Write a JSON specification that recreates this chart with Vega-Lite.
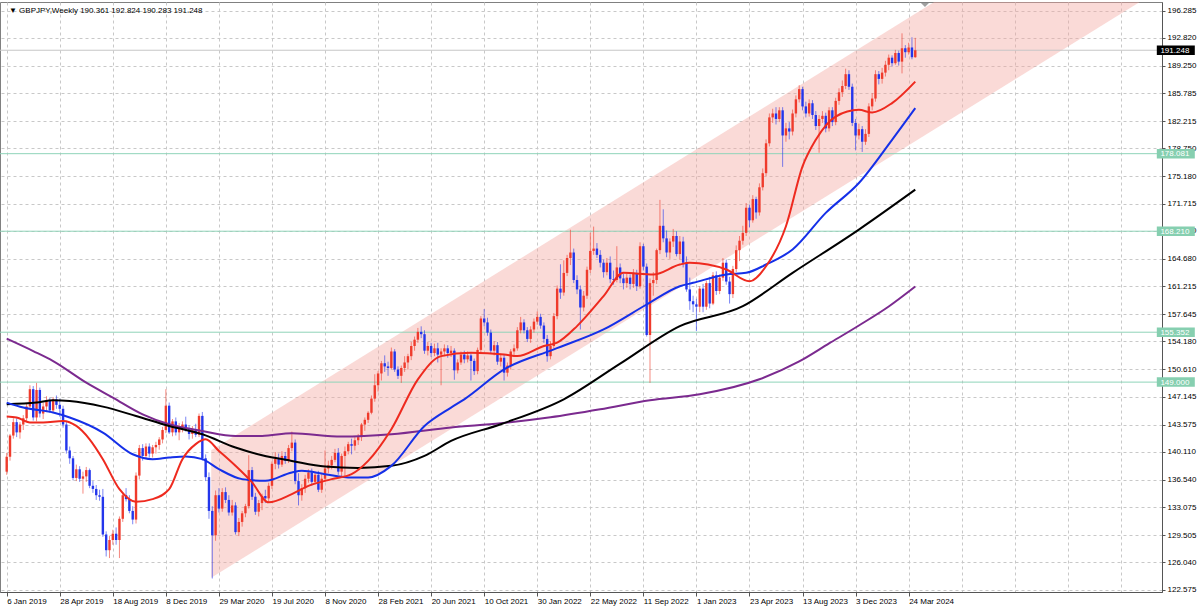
{
  "$schema": "https://vega.github.io/schema/vega-lite/v6.json",
  "width": 1162,
  "height": 590,
  "autosize": {"type": "none"},
  "padding": {"left": 0, "top": 2, "right": 38, "bottom": 18},
  "background": "#ffffff",
  "config": {
    "view": {"stroke": "#808080", "strokeWidth": 1},
    "axis": {
      "labelFont": "Liberation Sans",
      "labelFontSize": 8,
      "labelColor": "#000000",
      "labelOverlap": false,
      "domainColor": "#555555",
      "tickColor": "#555555",
      "gridColor": "#c8c8c8",
      "gridDash": [3, 3],
      "gridWidth": 1
    }
  },
  "datasets": {
    "channel": [
      {"d": "2020-03-12T17:00:00Z", "lo": 124.10, "hi": 140.32},
      {"d": "2025-08-30T07:00:00Z", "lo": 198.75, "hi": 214.98}
    ],
    "levels": [
      {"p": 178.081, "k": "lvl"},
      {"p": 168.21, "k": "lvl"},
      {"p": 155.352, "k": "lvl"},
      {"p": 149.0, "k": "lvl"},
      {"p": 191.248, "k": "cur"}
    ],
    "ma": [
      {"d": "2019-01-06", "s": "p", "v": 154.53},
      {"d": "2019-03-03", "s": "p", "v": 152.95},
      {"d": "2019-04-14", "s": "p", "v": 151.68},
      {"d": "2019-06-23", "s": "p", "v": 148.93},
      {"d": "2019-08-18", "s": "p", "v": 147.03},
      {"d": "2019-10-20", "s": "p", "v": 144.90},
      {"d": "2019-12-15", "s": "p", "v": 143.63},
      {"d": "2020-02-23", "s": "p", "v": 142.78},
      {"d": "2020-05-03", "s": "p", "v": 142.15},
      {"d": "2020-06-28", "s": "p", "v": 142.15},
      {"d": "2020-08-30", "s": "p", "v": 142.49},
      {"d": "2020-12-13", "s": "p", "v": 142.07},
      {"d": "2021-03-28", "s": "p", "v": 142.36},
      {"d": "2021-08-01", "s": "p", "v": 143.22},
      {"d": "2021-11-14", "s": "p", "v": 143.76},
      {"d": "2022-02-27", "s": "p", "v": 144.52},
      {"d": "2022-06-12", "s": "p", "v": 145.54},
      {"d": "2022-09-25", "s": "p", "v": 146.69},
      {"d": "2023-01-08", "s": "p", "v": 147.45},
      {"d": "2023-05-14", "s": "p", "v": 149.36},
      {"d": "2023-08-06", "s": "p", "v": 151.63},
      {"d": "2023-10-08", "s": "p", "v": 153.92},
      {"d": "2023-12-10", "s": "p", "v": 156.21},
      {"d": "2024-02-11", "s": "p", "v": 158.63},
      {"d": "2024-04-07", "s": "p", "v": 161.17},
      {"d": "2019-01-06", "s": "k", "v": 146.18},
      {"d": "2019-03-10", "s": "k", "v": 146.39},
      {"d": "2019-04-14", "s": "k", "v": 146.69},
      {"d": "2019-05-19", "s": "k", "v": 146.60},
      {"d": "2019-07-28", "s": "k", "v": 145.88},
      {"d": "2019-10-06", "s": "k", "v": 144.69},
      {"d": "2019-12-15", "s": "k", "v": 143.42},
      {"d": "2020-02-23", "s": "k", "v": 142.36},
      {"d": "2020-05-03", "s": "k", "v": 140.67},
      {"d": "2020-06-28", "s": "k", "v": 139.69},
      {"d": "2020-08-30", "s": "k", "v": 138.97},
      {"d": "2020-11-08", "s": "k", "v": 138.26},
      {"d": "2021-01-17", "s": "k", "v": 138.08},
      {"d": "2021-03-28", "s": "k", "v": 138.34},
      {"d": "2021-06-06", "s": "k", "v": 139.61},
      {"d": "2021-08-01", "s": "k", "v": 141.51},
      {"d": "2021-11-14", "s": "k", "v": 143.64},
      {"d": "2022-03-27", "s": "k", "v": 146.81},
      {"d": "2022-07-24", "s": "k", "v": 151.35},
      {"d": "2022-11-27", "s": "k", "v": 156.13},
      {"d": "2023-04-09", "s": "k", "v": 158.67},
      {"d": "2023-07-23", "s": "k", "v": 162.91},
      {"d": "2023-12-10", "s": "k", "v": 168.42},
      {"d": "2024-04-07", "s": "k", "v": 173.50},
      {"d": "2019-01-06", "s": "b", "v": 146.39},
      {"d": "2019-02-10", "s": "b", "v": 145.76},
      {"d": "2019-04-14", "s": "b", "v": 145.12},
      {"d": "2019-05-19", "s": "b", "v": 144.49},
      {"d": "2019-07-28", "s": "b", "v": 142.58},
      {"d": "2019-09-29", "s": "b", "v": 139.82},
      {"d": "2019-11-10", "s": "b", "v": 139.19},
      {"d": "2019-12-15", "s": "b", "v": 139.40},
      {"d": "2020-01-19", "s": "b", "v": 139.53},
      {"d": "2020-02-23", "s": "b", "v": 139.19},
      {"d": "2020-03-29", "s": "b", "v": 137.92},
      {"d": "2020-05-17", "s": "b", "v": 136.65},
      {"d": "2020-07-05", "s": "b", "v": 136.43},
      {"d": "2020-08-30", "s": "b", "v": 137.50},
      {"d": "2020-09-20", "s": "b", "v": 137.70},
      {"d": "2020-11-08", "s": "b", "v": 137.28},
      {"d": "2021-01-03", "s": "b", "v": 136.86},
      {"d": "2021-02-07", "s": "b", "v": 136.86},
      {"d": "2021-03-28", "s": "b", "v": 138.34},
      {"d": "2021-06-06", "s": "b", "v": 143.42},
      {"d": "2021-08-01", "s": "b", "v": 145.76},
      {"d": "2021-08-29", "s": "b", "v": 146.81},
      {"d": "2021-11-21", "s": "b", "v": 150.62},
      {"d": "2022-03-06", "s": "b", "v": 153.17},
      {"d": "2022-06-19", "s": "b", "v": 155.71},
      {"d": "2022-09-18", "s": "b", "v": 158.88},
      {"d": "2022-11-27", "s": "b", "v": 161.21},
      {"d": "2022-12-25", "s": "b", "v": 161.64},
      {"d": "2023-03-05", "s": "b", "v": 162.70},
      {"d": "2023-04-16", "s": "b", "v": 162.91},
      {"d": "2023-05-28", "s": "b", "v": 163.97},
      {"d": "2023-07-23", "s": "b", "v": 165.88},
      {"d": "2023-10-01", "s": "b", "v": 170.54},
      {"d": "2023-12-10", "s": "b", "v": 174.35},
      {"d": "2024-02-18", "s": "b", "v": 179.85},
      {"d": "2024-04-07", "s": "b", "v": 183.88},
      {"d": "2019-01-06", "s": "r", "v": 144.61},
      {"d": "2019-01-27", "s": "r", "v": 144.49},
      {"d": "2019-02-24", "s": "r", "v": 143.85},
      {"d": "2019-03-24", "s": "r", "v": 143.85},
      {"d": "2019-05-05", "s": "r", "v": 144.05},
      {"d": "2019-06-02", "s": "r", "v": 143.42},
      {"d": "2019-06-30", "s": "r", "v": 141.72},
      {"d": "2019-07-28", "s": "r", "v": 139.19},
      {"d": "2019-09-01", "s": "r", "v": 135.37},
      {"d": "2019-10-06", "s": "r", "v": 133.76},
      {"d": "2019-11-10", "s": "r", "v": 134.10},
      {"d": "2019-12-15", "s": "r", "v": 135.37},
      {"d": "2020-01-12", "s": "r", "v": 139.19},
      {"d": "2020-02-09", "s": "r", "v": 141.10},
      {"d": "2020-03-01", "s": "r", "v": 141.72},
      {"d": "2020-03-29", "s": "r", "v": 140.24},
      {"d": "2020-05-03", "s": "r", "v": 138.34},
      {"d": "2020-06-07", "s": "r", "v": 136.23},
      {"d": "2020-07-12", "s": "r", "v": 133.69},
      {"d": "2020-08-30", "s": "r", "v": 134.74},
      {"d": "2020-10-04", "s": "r", "v": 135.79},
      {"d": "2020-11-22", "s": "r", "v": 136.65},
      {"d": "2021-01-03", "s": "r", "v": 137.28},
      {"d": "2021-02-07", "s": "r", "v": 138.97},
      {"d": "2021-03-28", "s": "r", "v": 143.00},
      {"d": "2021-05-23", "s": "r", "v": 149.35},
      {"d": "2021-07-11", "s": "r", "v": 152.31},
      {"d": "2021-09-12", "s": "r", "v": 152.75},
      {"d": "2021-11-21", "s": "r", "v": 152.53},
      {"d": "2021-12-19", "s": "r", "v": 152.31},
      {"d": "2022-02-13", "s": "r", "v": 153.59},
      {"d": "2022-03-13", "s": "r", "v": 154.02},
      {"d": "2022-04-24", "s": "r", "v": 156.13},
      {"d": "2022-06-19", "s": "r", "v": 159.94},
      {"d": "2022-07-31", "s": "r", "v": 162.91},
      {"d": "2022-10-02", "s": "r", "v": 162.70},
      {"d": "2022-11-27", "s": "r", "v": 163.97},
      {"d": "2022-12-18", "s": "r", "v": 164.19},
      {"d": "2023-03-05", "s": "r", "v": 163.33},
      {"d": "2023-04-23", "s": "r", "v": 161.84},
      {"d": "2023-05-28", "s": "r", "v": 163.75},
      {"d": "2023-07-09", "s": "r", "v": 168.84},
      {"d": "2023-08-13", "s": "r", "v": 176.46},
      {"d": "2023-09-10", "s": "r", "v": 179.85},
      {"d": "2023-10-22", "s": "r", "v": 182.81},
      {"d": "2023-12-10", "s": "r", "v": 183.66},
      {"d": "2024-01-07", "s": "r", "v": 183.32},
      {"d": "2024-02-18", "s": "r", "v": 184.52},
      {"d": "2024-04-07", "s": "r", "v": 187.26}
    ],
    "bars": [
      {"d":"2019-01-06","o":137.6,"h":140.0,"l":137.2,"c":139.5},
      {"d":"2019-01-13","o":139.5,"h":142.4,"l":139.0,"c":142.2},
      {"d":"2019-01-20","o":142.2,"h":144.4,"l":141.8,"c":143.9},
      {"d":"2019-01-27","o":143.9,"h":144.4,"l":142.0,"c":142.6},
      {"d":"2019-02-03","o":142.6,"h":143.9,"l":141.8,"c":143.6},
      {"d":"2019-02-10","o":143.6,"h":144.8,"l":142.9,"c":144.4},
      {"d":"2019-02-17","o":144.4,"h":146.3,"l":143.9,"c":145.9},
      {"d":"2019-02-24","o":145.9,"h":148.6,"l":145.5,"c":148.1},
      {"d":"2019-03-03","o":148.1,"h":148.5,"l":144.1,"c":144.5},
      {"d":"2019-03-10","o":144.5,"h":148.9,"l":144.0,"c":148.0},
      {"d":"2019-03-17","o":148.0,"h":148.3,"l":144.5,"c":145.0},
      {"d":"2019-03-24","o":145.0,"h":146.4,"l":144.3,"c":145.9},
      {"d":"2019-03-31","o":145.9,"h":147.2,"l":145.3,"c":146.7},
      {"d":"2019-04-07","o":146.7,"h":147.0,"l":145.1,"c":145.4},
      {"d":"2019-04-14","o":145.4,"h":147.1,"l":145.1,"c":146.8},
      {"d":"2019-04-21","o":146.8,"h":147.3,"l":145.6,"c":146.1},
      {"d":"2019-04-28","o":146.1,"h":146.9,"l":144.6,"c":145.6},
      {"d":"2019-05-05","o":145.6,"h":146.0,"l":143.2,"c":143.6},
      {"d":"2019-05-12","o":143.6,"h":144.0,"l":139.9,"c":140.3},
      {"d":"2019-05-19","o":140.3,"h":140.8,"l":138.6,"c":139.3},
      {"d":"2019-05-26","o":139.3,"h":139.6,"l":136.5,"c":136.8},
      {"d":"2019-06-02","o":136.8,"h":138.5,"l":136.4,"c":137.9},
      {"d":"2019-06-09","o":137.9,"h":138.3,"l":136.3,"c":136.7},
      {"d":"2019-06-16","o":136.7,"h":137.6,"l":134.8,"c":137.0},
      {"d":"2019-06-23","o":137.0,"h":138.2,"l":136.3,"c":137.8},
      {"d":"2019-06-30","o":137.8,"h":138.0,"l":135.5,"c":135.8},
      {"d":"2019-07-07","o":135.8,"h":136.4,"l":134.9,"c":135.4},
      {"d":"2019-07-14","o":135.4,"h":135.9,"l":134.0,"c":134.6},
      {"d":"2019-07-21","o":134.6,"h":135.3,"l":133.9,"c":134.4},
      {"d":"2019-07-28","o":134.4,"h":135.4,"l":129.3,"c":129.6},
      {"d":"2019-08-04","o":129.6,"h":130.0,"l":126.8,"c":127.6},
      {"d":"2019-08-11","o":127.6,"h":129.4,"l":126.6,"c":128.9},
      {"d":"2019-08-18","o":128.9,"h":130.2,"l":128.3,"c":129.7},
      {"d":"2019-08-25","o":129.7,"h":130.5,"l":128.3,"c":128.9},
      {"d":"2019-09-01","o":128.9,"h":131.9,"l":126.6,"c":131.6},
      {"d":"2019-09-08","o":131.6,"h":134.9,"l":131.2,"c":134.6},
      {"d":"2019-09-15","o":134.6,"h":135.5,"l":133.8,"c":134.1},
      {"d":"2019-09-22","o":134.1,"h":134.6,"l":132.3,"c":132.6},
      {"d":"2019-09-29","o":132.6,"h":133.2,"l":130.9,"c":131.5},
      {"d":"2019-10-06","o":131.5,"h":137.5,"l":131.0,"c":137.1},
      {"d":"2019-10-13","o":137.1,"h":141.0,"l":136.6,"c":140.6},
      {"d":"2019-10-20","o":140.6,"h":141.1,"l":139.0,"c":139.6},
      {"d":"2019-10-27","o":139.6,"h":141.2,"l":139.2,"c":140.8},
      {"d":"2019-11-03","o":140.8,"h":141.2,"l":139.4,"c":139.9},
      {"d":"2019-11-10","o":139.9,"h":141.0,"l":139.4,"c":140.7},
      {"d":"2019-11-17","o":140.7,"h":141.4,"l":139.9,"c":141.0},
      {"d":"2019-11-24","o":141.0,"h":142.0,"l":140.4,"c":141.7},
      {"d":"2019-12-01","o":141.7,"h":143.3,"l":141.2,"c":142.9},
      {"d":"2019-12-08","o":142.9,"h":148.1,"l":142.5,"c":146.0},
      {"d":"2019-12-15","o":146.0,"h":146.4,"l":142.4,"c":142.6},
      {"d":"2019-12-22","o":142.6,"h":144.3,"l":142.1,"c":144.0},
      {"d":"2019-12-29","o":144.0,"h":144.5,"l":142.2,"c":142.6},
      {"d":"2020-01-05","o":142.6,"h":143.8,"l":141.6,"c":143.2},
      {"d":"2020-01-12","o":143.2,"h":144.0,"l":142.6,"c":143.6},
      {"d":"2020-01-19","o":143.6,"h":144.6,"l":142.7,"c":143.0},
      {"d":"2020-01-26","o":143.0,"h":143.5,"l":141.7,"c":142.4},
      {"d":"2020-02-02","o":142.4,"h":143.4,"l":141.8,"c":142.9},
      {"d":"2020-02-09","o":142.9,"h":143.7,"l":142.0,"c":142.3},
      {"d":"2020-02-16","o":142.3,"h":145.0,"l":142.0,"c":144.7},
      {"d":"2020-02-23","o":144.7,"h":145.2,"l":139.0,"c":139.3},
      {"d":"2020-03-01","o":139.3,"h":139.8,"l":136.4,"c":136.9},
      {"d":"2020-03-08","o":136.9,"h":137.5,"l":131.6,"c":132.6},
      {"d":"2020-03-15","o":132.6,"h":133.2,"l":124.0,"c":129.5},
      {"d":"2020-03-22","o":129.5,"h":135.2,"l":128.8,"c":134.6},
      {"d":"2020-03-29","o":134.6,"h":135.5,"l":132.4,"c":132.9},
      {"d":"2020-04-05","o":132.9,"h":135.5,"l":132.5,"c":135.0},
      {"d":"2020-04-12","o":135.0,"h":135.6,"l":133.6,"c":134.0},
      {"d":"2020-04-19","o":134.0,"h":134.6,"l":132.0,"c":132.4},
      {"d":"2020-04-26","o":132.4,"h":134.0,"l":132.0,"c":133.3},
      {"d":"2020-05-03","o":133.3,"h":133.7,"l":129.6,"c":129.9},
      {"d":"2020-05-10","o":129.9,"h":131.7,"l":129.4,"c":131.2},
      {"d":"2020-05-17","o":131.2,"h":132.6,"l":130.6,"c":132.3},
      {"d":"2020-05-24","o":132.3,"h":133.5,"l":131.8,"c":133.2},
      {"d":"2020-05-31","o":133.2,"h":139.7,"l":132.9,"c":137.8},
      {"d":"2020-06-07","o":137.8,"h":138.2,"l":134.0,"c":134.4},
      {"d":"2020-06-14","o":134.4,"h":134.9,"l":132.1,"c":132.5},
      {"d":"2020-06-21","o":132.5,"h":134.0,"l":131.9,"c":133.6},
      {"d":"2020-06-28","o":133.6,"h":134.8,"l":132.7,"c":134.5},
      {"d":"2020-07-05","o":134.5,"h":135.3,"l":133.6,"c":134.2},
      {"d":"2020-07-12","o":134.2,"h":136.2,"l":133.7,"c":135.8},
      {"d":"2020-07-19","o":135.8,"h":138.9,"l":135.4,"c":138.6},
      {"d":"2020-07-26","o":138.6,"h":140.1,"l":137.9,"c":139.2},
      {"d":"2020-08-02","o":139.2,"h":139.9,"l":138.0,"c":138.5},
      {"d":"2020-08-09","o":138.5,"h":140.2,"l":138.2,"c":139.6},
      {"d":"2020-08-16","o":139.6,"h":140.1,"l":138.6,"c":139.0},
      {"d":"2020-08-23","o":139.0,"h":141.0,"l":138.7,"c":140.6},
      {"d":"2020-08-30","o":140.6,"h":142.7,"l":140.2,"c":141.3},
      {"d":"2020-09-06","o":141.3,"h":141.7,"l":136.0,"c":136.4},
      {"d":"2020-09-13","o":136.4,"h":137.4,"l":133.3,"c":134.6},
      {"d":"2020-09-20","o":134.6,"h":136.0,"l":133.9,"c":135.5},
      {"d":"2020-09-27","o":135.5,"h":137.2,"l":134.9,"c":136.7},
      {"d":"2020-10-04","o":136.7,"h":137.9,"l":136.2,"c":137.5},
      {"d":"2020-10-11","o":137.5,"h":138.0,"l":135.8,"c":136.3},
      {"d":"2020-10-18","o":136.3,"h":137.6,"l":136.0,"c":137.2},
      {"d":"2020-10-25","o":137.2,"h":137.7,"l":135.0,"c":135.3},
      {"d":"2020-11-01","o":135.3,"h":137.3,"l":134.9,"c":136.7},
      {"d":"2020-11-08","o":136.7,"h":140.3,"l":136.3,"c":138.0},
      {"d":"2020-11-15","o":138.0,"h":139.0,"l":137.4,"c":138.4},
      {"d":"2020-11-22","o":138.4,"h":139.6,"l":137.9,"c":139.1},
      {"d":"2020-11-29","o":139.1,"h":140.5,"l":138.8,"c":140.0},
      {"d":"2020-12-06","o":140.0,"h":140.6,"l":137.2,"c":137.6},
      {"d":"2020-12-13","o":137.6,"h":139.9,"l":137.0,"c":139.6},
      {"d":"2020-12-20","o":139.6,"h":140.8,"l":136.8,"c":140.2},
      {"d":"2020-12-27","o":140.2,"h":141.4,"l":139.8,"c":141.1},
      {"d":"2021-01-03","o":141.1,"h":141.8,"l":139.8,"c":140.9},
      {"d":"2021-01-10","o":140.9,"h":142.0,"l":140.3,"c":141.6},
      {"d":"2021-01-17","o":141.6,"h":142.4,"l":141.0,"c":142.0},
      {"d":"2021-01-24","o":142.0,"h":143.8,"l":141.5,"c":143.6},
      {"d":"2021-01-31","o":143.6,"h":144.5,"l":142.8,"c":144.2},
      {"d":"2021-02-07","o":144.2,"h":145.3,"l":143.8,"c":145.1},
      {"d":"2021-02-14","o":145.1,"h":147.3,"l":144.9,"c":146.9},
      {"d":"2021-02-21","o":146.9,"h":150.0,"l":146.5,"c":148.6},
      {"d":"2021-02-28","o":148.6,"h":150.4,"l":147.8,"c":150.1},
      {"d":"2021-03-07","o":150.1,"h":151.7,"l":149.2,"c":151.4},
      {"d":"2021-03-14","o":151.4,"h":152.4,"l":150.3,"c":151.0},
      {"d":"2021-03-21","o":151.0,"h":151.6,"l":149.8,"c":150.8},
      {"d":"2021-03-28","o":150.8,"h":153.4,"l":150.6,"c":152.9},
      {"d":"2021-04-04","o":152.9,"h":153.2,"l":150.3,"c":150.6},
      {"d":"2021-04-11","o":150.6,"h":151.0,"l":149.4,"c":149.8},
      {"d":"2021-04-18","o":149.8,"h":151.1,"l":148.9,"c":150.8},
      {"d":"2021-04-25","o":150.8,"h":152.3,"l":150.3,"c":151.5},
      {"d":"2021-05-02","o":151.5,"h":152.6,"l":150.6,"c":152.3},
      {"d":"2021-05-09","o":152.3,"h":154.1,"l":151.8,"c":153.6},
      {"d":"2021-05-16","o":153.6,"h":154.8,"l":153.0,"c":154.4},
      {"d":"2021-05-23","o":154.4,"h":155.9,"l":154.0,"c":155.4},
      {"d":"2021-05-30","o":155.4,"h":156.1,"l":154.6,"c":155.1},
      {"d":"2021-06-06","o":155.1,"h":155.6,"l":152.6,"c":153.0},
      {"d":"2021-06-13","o":153.0,"h":154.1,"l":152.4,"c":153.6},
      {"d":"2021-06-20","o":153.6,"h":154.0,"l":152.2,"c":152.7},
      {"d":"2021-06-27","o":152.7,"h":153.9,"l":152.3,"c":153.3},
      {"d":"2021-07-04","o":153.3,"h":154.0,"l":151.5,"c":152.5},
      {"d":"2021-07-11","o":152.5,"h":153.3,"l":148.6,"c":152.9},
      {"d":"2021-07-18","o":152.9,"h":153.8,"l":152.3,"c":153.3},
      {"d":"2021-07-25","o":153.3,"h":153.7,"l":152.1,"c":152.7},
      {"d":"2021-08-01","o":152.7,"h":153.6,"l":152.2,"c":153.0},
      {"d":"2021-08-08","o":153.0,"h":153.3,"l":149.3,"c":150.5},
      {"d":"2021-08-15","o":150.5,"h":151.9,"l":150.1,"c":151.5},
      {"d":"2021-08-22","o":151.5,"h":152.9,"l":151.2,"c":152.5},
      {"d":"2021-08-29","o":152.5,"h":153.0,"l":151.4,"c":151.9},
      {"d":"2021-09-05","o":151.9,"h":152.9,"l":151.5,"c":152.4},
      {"d":"2021-09-12","o":152.4,"h":152.7,"l":149.2,"c":151.7},
      {"d":"2021-09-19","o":151.7,"h":152.0,"l":149.9,"c":150.4},
      {"d":"2021-09-26","o":150.4,"h":153.4,"l":150.0,"c":153.1},
      {"d":"2021-10-03","o":153.1,"h":157.4,"l":152.8,"c":157.1},
      {"d":"2021-10-10","o":157.1,"h":158.3,"l":156.1,"c":156.6},
      {"d":"2021-10-17","o":156.6,"h":157.2,"l":154.9,"c":155.3},
      {"d":"2021-10-24","o":155.3,"h":155.7,"l":152.6,"c":153.0},
      {"d":"2021-10-31","o":153.0,"h":154.2,"l":152.4,"c":153.7},
      {"d":"2021-11-07","o":153.7,"h":154.1,"l":151.2,"c":151.6},
      {"d":"2021-11-14","o":151.6,"h":152.6,"l":151.0,"c":152.1},
      {"d":"2021-11-21","o":152.1,"h":152.5,"l":149.2,"c":150.2},
      {"d":"2021-11-28","o":150.2,"h":151.5,"l":149.7,"c":151.1},
      {"d":"2021-12-05","o":151.1,"h":153.2,"l":150.6,"c":152.9},
      {"d":"2021-12-12","o":152.9,"h":153.8,"l":152.3,"c":153.3},
      {"d":"2021-12-19","o":153.3,"h":156.0,"l":153.0,"c":155.6},
      {"d":"2021-12-26","o":155.6,"h":157.3,"l":155.2,"c":156.6},
      {"d":"2022-01-02","o":156.6,"h":157.0,"l":155.2,"c":155.6},
      {"d":"2022-01-09","o":155.6,"h":156.0,"l":154.1,"c":154.5},
      {"d":"2022-01-16","o":154.5,"h":156.1,"l":154.0,"c":155.7},
      {"d":"2022-01-23","o":155.7,"h":157.1,"l":155.3,"c":156.7},
      {"d":"2022-01-30","o":156.7,"h":158.0,"l":156.3,"c":157.3},
      {"d":"2022-02-06","o":157.3,"h":157.7,"l":155.8,"c":156.2},
      {"d":"2022-02-13","o":156.2,"h":156.6,"l":154.0,"c":154.5},
      {"d":"2022-02-20","o":154.5,"h":155.0,"l":151.6,"c":152.3},
      {"d":"2022-02-27","o":152.3,"h":154.2,"l":151.9,"c":153.6},
      {"d":"2022-03-06","o":153.6,"h":157.8,"l":153.3,"c":157.4},
      {"d":"2022-03-13","o":157.4,"h":161.3,"l":157.0,"c":160.9},
      {"d":"2022-03-20","o":160.9,"h":164.0,"l":159.6,"c":160.4},
      {"d":"2022-03-27","o":160.4,"h":164.5,"l":160.0,"c":162.9},
      {"d":"2022-04-03","o":162.9,"h":165.2,"l":162.5,"c":164.8},
      {"d":"2022-04-10","o":164.8,"h":168.4,"l":163.9,"c":165.5},
      {"d":"2022-04-17","o":165.5,"h":166.0,"l":161.6,"c":162.0},
      {"d":"2022-04-24","o":162.0,"h":162.6,"l":160.2,"c":160.8},
      {"d":"2022-05-01","o":160.8,"h":161.3,"l":155.7,"c":158.5},
      {"d":"2022-05-08","o":158.5,"h":160.6,"l":158.0,"c":160.0},
      {"d":"2022-05-15","o":160.0,"h":163.7,"l":159.6,"c":163.3},
      {"d":"2022-05-22","o":163.3,"h":168.0,"l":162.9,"c":165.7},
      {"d":"2022-05-29","o":165.7,"h":168.8,"l":165.2,"c":166.0},
      {"d":"2022-06-05","o":166.0,"h":166.7,"l":164.8,"c":165.2},
      {"d":"2022-06-12","o":165.2,"h":165.8,"l":163.6,"c":164.2},
      {"d":"2022-06-19","o":164.2,"h":164.6,"l":162.3,"c":163.0},
      {"d":"2022-06-26","o":163.0,"h":164.8,"l":162.6,"c":164.2},
      {"d":"2022-07-03","o":164.2,"h":165.0,"l":161.6,"c":162.1},
      {"d":"2022-07-10","o":162.1,"h":163.2,"l":161.4,"c":162.0},
      {"d":"2022-07-17","o":162.0,"h":166.3,"l":161.7,"c":163.6},
      {"d":"2022-07-24","o":163.6,"h":164.1,"l":161.6,"c":162.2},
      {"d":"2022-07-31","o":162.2,"h":162.8,"l":160.8,"c":161.6},
      {"d":"2022-08-07","o":161.6,"h":162.8,"l":161.0,"c":162.3},
      {"d":"2022-08-14","o":162.3,"h":162.7,"l":160.8,"c":161.5},
      {"d":"2022-08-21","o":161.5,"h":163.4,"l":161.0,"c":162.8},
      {"d":"2022-08-28","o":162.8,"h":163.3,"l":160.6,"c":161.2},
      {"d":"2022-09-04","o":161.2,"h":166.8,"l":160.9,"c":166.3},
      {"d":"2022-09-11","o":166.3,"h":166.6,"l":163.2,"c":163.7},
      {"d":"2022-09-18","o":163.7,"h":164.1,"l":154.8,"c":155.0},
      {"d":"2022-09-25","o":155.0,"h":162.2,"l":148.9,"c":161.6},
      {"d":"2022-10-02","o":161.6,"h":163.0,"l":160.0,"c":162.0},
      {"d":"2022-10-09","o":162.0,"h":166.0,"l":161.5,"c":165.8},
      {"d":"2022-10-16","o":165.8,"h":172.2,"l":165.3,"c":168.9},
      {"d":"2022-10-23","o":168.9,"h":171.0,"l":166.8,"c":167.3},
      {"d":"2022-10-30","o":167.3,"h":168.3,"l":164.9,"c":165.5},
      {"d":"2022-11-06","o":165.5,"h":167.3,"l":164.7,"c":166.9},
      {"d":"2022-11-13","o":166.9,"h":168.5,"l":166.2,"c":167.6},
      {"d":"2022-11-20","o":167.6,"h":168.2,"l":165.0,"c":165.3},
      {"d":"2022-11-27","o":165.3,"h":167.6,"l":164.6,"c":166.9},
      {"d":"2022-12-04","o":166.9,"h":167.5,"l":163.6,"c":164.2},
      {"d":"2022-12-11","o":164.2,"h":165.0,"l":160.5,"c":160.8},
      {"d":"2022-12-18","o":160.8,"h":162.3,"l":158.2,"c":159.3},
      {"d":"2022-12-25","o":159.3,"h":160.0,"l":157.9,"c":158.9},
      {"d":"2023-01-01","o":158.9,"h":159.6,"l":155.5,"c":158.6},
      {"d":"2023-01-08","o":158.6,"h":161.2,"l":157.9,"c":160.9},
      {"d":"2023-01-15","o":160.9,"h":161.5,"l":157.9,"c":158.6},
      {"d":"2023-01-22","o":158.6,"h":161.9,"l":158.2,"c":161.6},
      {"d":"2023-01-29","o":161.6,"h":162.4,"l":158.4,"c":159.0},
      {"d":"2023-02-05","o":159.0,"h":163.0,"l":158.8,"c":162.6},
      {"d":"2023-02-12","o":162.6,"h":163.1,"l":160.1,"c":160.6},
      {"d":"2023-02-19","o":160.6,"h":162.7,"l":160.2,"c":162.3},
      {"d":"2023-02-26","o":162.3,"h":164.8,"l":161.9,"c":164.2},
      {"d":"2023-03-05","o":164.2,"h":164.6,"l":161.4,"c":161.8},
      {"d":"2023-03-12","o":161.8,"h":162.4,"l":159.0,"c":160.2},
      {"d":"2023-03-19","o":160.2,"h":163.8,"l":159.7,"c":163.4},
      {"d":"2023-03-26","o":163.4,"h":166.4,"l":163.0,"c":165.8},
      {"d":"2023-04-02","o":165.8,"h":167.6,"l":164.4,"c":167.0},
      {"d":"2023-04-09","o":167.0,"h":168.9,"l":166.5,"c":168.0},
      {"d":"2023-04-16","o":168.0,"h":171.8,"l":167.6,"c":171.2},
      {"d":"2023-04-23","o":171.2,"h":171.6,"l":168.7,"c":169.6},
      {"d":"2023-04-30","o":169.6,"h":172.8,"l":169.3,"c":172.3},
      {"d":"2023-05-07","o":172.3,"h":172.6,"l":169.8,"c":170.6},
      {"d":"2023-05-14","o":170.6,"h":174.3,"l":170.2,"c":173.8},
      {"d":"2023-05-21","o":173.8,"h":176.2,"l":173.4,"c":175.6},
      {"d":"2023-05-28","o":175.6,"h":179.9,"l":175.2,"c":179.4},
      {"d":"2023-06-04","o":179.4,"h":183.2,"l":179.0,"c":182.7},
      {"d":"2023-06-11","o":182.7,"h":183.8,"l":182.0,"c":183.2},
      {"d":"2023-06-18","o":183.2,"h":184.0,"l":181.8,"c":182.5},
      {"d":"2023-06-25","o":182.5,"h":184.0,"l":182.1,"c":183.6},
      {"d":"2023-07-02","o":183.6,"h":184.0,"l":176.4,"c":180.4},
      {"d":"2023-07-09","o":180.4,"h":182.0,"l":179.6,"c":181.3},
      {"d":"2023-07-16","o":181.3,"h":182.1,"l":179.9,"c":180.9},
      {"d":"2023-07-23","o":180.9,"h":183.7,"l":180.4,"c":183.2},
      {"d":"2023-07-30","o":183.2,"h":185.5,"l":182.7,"c":185.0},
      {"d":"2023-08-06","o":185.0,"h":186.8,"l":184.6,"c":186.3},
      {"d":"2023-08-13","o":186.3,"h":186.6,"l":183.6,"c":184.1},
      {"d":"2023-08-20","o":184.1,"h":184.7,"l":182.7,"c":183.2},
      {"d":"2023-08-27","o":183.2,"h":185.0,"l":182.8,"c":184.5},
      {"d":"2023-09-03","o":184.5,"h":184.9,"l":182.5,"c":183.0},
      {"d":"2023-09-10","o":183.0,"h":183.5,"l":181.1,"c":181.6},
      {"d":"2023-09-17","o":181.6,"h":183.0,"l":178.2,"c":182.5},
      {"d":"2023-09-24","o":182.5,"h":183.5,"l":182.0,"c":182.9},
      {"d":"2023-10-01","o":182.9,"h":183.3,"l":180.8,"c":181.3},
      {"d":"2023-10-08","o":181.3,"h":184.0,"l":180.9,"c":183.6},
      {"d":"2023-10-15","o":183.6,"h":184.0,"l":181.6,"c":182.1},
      {"d":"2023-10-22","o":182.1,"h":185.2,"l":181.7,"c":184.8},
      {"d":"2023-10-29","o":184.8,"h":186.4,"l":184.3,"c":185.9},
      {"d":"2023-11-05","o":185.9,"h":187.4,"l":185.3,"c":186.7},
      {"d":"2023-11-12","o":186.7,"h":188.9,"l":186.3,"c":188.2},
      {"d":"2023-11-19","o":188.2,"h":188.7,"l":186.2,"c":186.6},
      {"d":"2023-11-26","o":186.6,"h":187.0,"l":181.6,"c":182.0},
      {"d":"2023-12-03","o":182.0,"h":182.5,"l":178.5,"c":180.4},
      {"d":"2023-12-10","o":180.4,"h":181.9,"l":179.9,"c":181.2},
      {"d":"2023-12-17","o":181.2,"h":181.6,"l":178.3,"c":179.6},
      {"d":"2023-12-24","o":179.6,"h":181.2,"l":179.2,"c":180.6},
      {"d":"2023-12-31","o":180.6,"h":184.5,"l":180.2,"c":184.1},
      {"d":"2024-01-07","o":184.1,"h":185.8,"l":183.6,"c":185.1},
      {"d":"2024-01-14","o":185.1,"h":188.7,"l":184.7,"c":188.2},
      {"d":"2024-01-21","o":188.2,"h":188.6,"l":186.9,"c":187.6},
      {"d":"2024-01-28","o":187.6,"h":189.0,"l":187.0,"c":188.4},
      {"d":"2024-02-04","o":188.4,"h":189.9,"l":187.9,"c":189.4},
      {"d":"2024-02-11","o":189.4,"h":190.7,"l":188.7,"c":190.3},
      {"d":"2024-02-18","o":190.3,"h":190.6,"l":189.2,"c":189.6},
      {"d":"2024-02-25","o":189.6,"h":191.3,"l":189.4,"c":190.9},
      {"d":"2024-03-03","o":190.9,"h":191.2,"l":189.3,"c":189.8},
      {"d":"2024-03-10","o":189.8,"h":193.4,"l":188.3,"c":191.5},
      {"d":"2024-03-17","o":191.5,"h":191.9,"l":190.3,"c":191.0},
      {"d":"2024-03-24","o":191.0,"h":192.2,"l":190.7,"c":191.6},
      {"d":"2024-03-31","o":191.6,"h":192.9,"l":190.1,"c":190.36},
      {"d":"2024-04-07","o":190.361,"h":192.824,"l":190.283,"c":191.248}
    ]
  },
  "layer": [
    {
      "data": {"name": "channel"},
      "mark": {"type": "area", "clip": true, "color": "#f4a6a0", "opacity": 0.42},
      "encoding": {
        "x": {"field": "d", "type": "temporal", "title": null,
              "scale": {"type": "utc", "nice": false, "domain": [{"year": 2019, "month": 1, "date": 2, "hours": 10, "utc": true}, {"year": 2025, "month": 8, "date": 30, "hours": 7, "utc": true}]},
              "axis": {
                "values": [1546732800000, 1551571200000, 1556409600000, 1561248000000, 1566086400000, 1570924800000, 1575763200000, 1580601600000, 1585440000000, 1590278400000, 1595116800000, 1599955200000, 1604793600000, 1609632000000, 1614470400000, 1619308800000, 1624147200000, 1628985600000, 1633824000000, 1638662400000, 1643500800000, 1648339200000, 1653177600000, 1658016000000, 1662854400000, 1667692800000, 1672531200000, 1677369600000, 1682208000000, 1687046400000, 1691884800000, 1696723200000, 1701561600000, 1706400000000, 1711238400000, 1716076800000, 1720915200000, 1725753600000, 1730592000000, 1735430400000, 1740268800000, 1745107200000, 1749945600000, 1754784000000],
                "labelExpr": "(round((datum.value - 1546732800000) / 4838400000) % 2 == 0 && datum.value <= 1711238400000) ? utcFormat(datum.value, '%-d %b %Y') : ''",
                "tickOpacity": {"condition": {"test": "round((datum.value - 1546732800000) / 4838400000) % 2 == 0 && datum.value <= 1711238400000", "value": 1}, "value": 0},
                "grid": true,
                "tickSize": 4,
                "labelAlign": "left",
                "labelBaseline": "top",
                "labelPadding": 1,
                "labelOverlap": false,
                "labelFlush": false,
                "labelBound": false,
                "title": null
              }},
        "y": {"field": "lo", "type": "quantitative", "title": null,
              "scale": {"domain": [122.28, 197.39], "nice": false, "zero": false},
              "axis": {"orient": "right", "values": [122.575, 126.04, 129.505, 133.075, 136.54, 140.11, 143.575, 147.145, 150.61, 154.18, 157.645, 161.215, 164.68, 168.25, 171.715, 175.18, 178.75, 182.215, 185.785, 189.25, 192.82, 196.285], "format": ".3f", "grid": true, "tickSize": 3, "labelPadding": 2, "labelOverlap": false, "labelFlush": false, "labelBound": false, "title": null}},
        "y2": {"field": "hi"}
      }
    },
    {
      "data": {"name": "levels"},
      "mark": {"type": "rule", "strokeWidth": 1},
      "encoding": {
        "y": {"field": "p", "type": "quantitative", "title": null, "axis": {"orient": "right", "values": [122.575, 126.04, 129.505, 133.075, 136.54, 140.11, 143.575, 147.145, 150.61, 154.18, 157.645, 161.215, 164.68, 168.25, 171.715, 175.18, 178.75, 182.215, 185.785, 189.25, 192.82, 196.285], "format": ".3f", "grid": true, "tickSize": 3, "labelPadding": 2, "labelOverlap": false, "labelFlush": false, "labelBound": false, "title": null}},
        "color": {"condition": {"test": "datum.k == 'cur'", "value": "#c6c6c6"}, "value": "#8fd4b9"}
      }
    },
    {
      "data": {"name": "bars"},
      "mark": {"type": "rule", "strokeWidth": 1, "opacity": 0.6},
      "encoding": {
        "x": {"field": "d", "type": "temporal", "title": null},
        "y": {"field": "l", "type": "quantitative", "title": null, "axis": {"orient": "right", "values": [122.575, 126.04, 129.505, 133.075, 136.54, 140.11, 143.575, 147.145, 150.61, 154.18, 157.645, 161.215, 164.68, 168.25, 171.715, 175.18, 178.75, 182.215, 185.785, 189.25, 192.82, 196.285], "format": ".3f", "grid": true, "tickSize": 3, "labelPadding": 2, "labelOverlap": false, "labelFlush": false, "labelBound": false, "title": null}},
        "y2": {"field": "h"},
        "color": {"condition": {"test": "datum.c >= datum.o", "value": "#ef3b2c"}, "value": "#2336ec"}
      }
    },
    {
      "data": {"name": "bars"},
      "mark": {"type": "bar", "width": 2.4},
      "encoding": {
        "x": {"field": "d", "type": "temporal", "title": null},
        "y": {"field": "o", "type": "quantitative", "title": null, "axis": {"orient": "right", "values": [122.575, 126.04, 129.505, 133.075, 136.54, 140.11, 143.575, 147.145, 150.61, 154.18, 157.645, 161.215, 164.68, 168.25, 171.715, 175.18, 178.75, 182.215, 185.785, 189.25, 192.82, 196.285], "format": ".3f", "grid": true, "tickSize": 3, "labelPadding": 2, "labelOverlap": false, "labelFlush": false, "labelBound": false, "title": null}},
        "y2": {"field": "c"},
        "color": {"condition": {"test": "datum.c >= datum.o", "value": "#ef3b2c"}, "value": "#2336ec"}
      }
    },
    {
      "data": {"name": "ma"},
      "mark": {"type": "line", "interpolate": "monotone"},
      "encoding": {
        "x": {"field": "d", "type": "temporal", "title": null},
        "y": {"field": "v", "type": "quantitative", "title": null, "axis": {"orient": "right", "values": [122.575, 126.04, 129.505, 133.075, 136.54, 140.11, 143.575, 147.145, 150.61, 154.18, 157.645, 161.215, 164.68, 168.25, 171.715, 175.18, 178.75, 182.215, 185.785, 189.25, 192.82, 196.285], "format": ".3f", "grid": true, "tickSize": 3, "labelPadding": 2, "labelOverlap": false, "labelFlush": false, "labelBound": false, "title": null}},
        "color": {"field": "s", "type": "nominal", "legend": null,
                  "scale": {"domain": ["p", "k", "b", "r"], "range": ["#7b2a8f", "#000000", "#1530e8", "#ee2a1f"]}},
        "strokeWidth": {"field": "s", "type": "nominal", "legend": null,
                        "scale": {"domain": ["p", "k", "b", "r"], "range": [2, 2, 2, 1.6]}}
      }
    },
    {
      "data": {"name": "levels"},
      "mark": {"type": "point", "shape": "M-1,-0.25L1,-0.25L1,0.25L-1,0.25Z", "size": 1444, "filled": true, "opacity": 1, "strokeWidth": 0},
      "encoding": {
        "x": {"datum": {"year": 2025, "month": 10, "date": 9, "utc": true}, "type": "temporal"},
        "y": {"field": "p", "type": "quantitative", "title": null, "axis": {"orient": "right", "values": [122.575, 126.04, 129.505, 133.075, 136.54, 140.11, 143.575, 147.145, 150.61, 154.18, 157.645, 161.215, 164.68, 168.25, 171.715, 175.18, 178.75, 182.215, 185.785, 189.25, 192.82, 196.285], "format": ".3f", "grid": true, "tickSize": 3, "labelPadding": 2, "labelOverlap": false, "labelFlush": false, "labelBound": false, "title": null}},
        "color": {"condition": {"test": "datum.k == 'cur'", "value": "#000000"}, "value": "#86cfb0"}
      }
    },
    {
      "data": {"name": "levels"},
      "mark": {"type": "text", "font": "Liberation Sans", "fontSize": 8, "color": "#ffffff", "align": "center", "baseline": "middle", "dy": 0.5},
      "encoding": {
        "x": {"datum": {"year": 2025, "month": 10, "date": 7, "utc": true}, "type": "temporal"},
        "y": {"field": "p", "type": "quantitative", "title": null, "axis": {"orient": "right", "values": [122.575, 126.04, 129.505, 133.075, 136.54, 140.11, 143.575, 147.145, 150.61, 154.18, 157.645, 161.215, 164.68, 168.25, 171.715, 175.18, 178.75, 182.215, 185.785, 189.25, 192.82, 196.285], "format": ".3f", "grid": true, "tickSize": 3, "labelPadding": 2, "labelOverlap": false, "labelFlush": false, "labelBound": false, "title": null}},
        "text": {"field": "p", "type": "quantitative", "format": ".3f"}
      }
    },
    {
      "data": {"values": [{"m": "shift"}]},
      "mark": {"type": "point", "shape": "M-1,-0.5L1,-0.5L0,0.5Z", "size": 64, "filled": true, "opacity": 1, "strokeWidth": 0, "color": "#a0a0a0"},
      "encoding": {
        "x": {"datum": {"year": 2024, "month": 4, "date": 27, "hours": 10, "utc": true}, "type": "temporal"},
        "y": {"datum": 197.0, "type": "quantitative", "axis": {"orient": "right", "values": [122.575, 126.04, 129.505, 133.075, 136.54, 140.11, 143.575, 147.145, 150.61, 154.18, 157.645, 161.215, 164.68, 168.25, 171.715, 175.18, 178.75, 182.215, 185.785, 189.25, 192.82, 196.285], "format": ".3f", "grid": true, "tickSize": 3, "labelPadding": 2, "labelOverlap": false, "labelFlush": false, "labelBound": false, "title": null}}
      }
    },
    {
      "data": {"values": [{"t": "▼  GBPJPY,Weekly  190.361 192.824 190.283 191.248"}]},
      "mark": {"type": "text", "font": "Liberation Sans", "fontSize": 8, "color": "#000000", "align": "left", "baseline": "middle"},
      "encoding": {
        "x": {"datum": {"year": 2019, "month": 1, "date": 10, "hours": 19, "utc": true}, "type": "temporal"},
        "y": {"datum": 196.285, "type": "quantitative", "axis": {"orient": "right", "values": [122.575, 126.04, 129.505, 133.075, 136.54, 140.11, 143.575, 147.145, 150.61, 154.18, 157.645, 161.215, 164.68, 168.25, 171.715, 175.18, 178.75, 182.215, 185.785, 189.25, 192.82, 196.285], "format": ".3f", "grid": true, "tickSize": 3, "labelPadding": 2, "labelOverlap": false, "labelFlush": false, "labelBound": false, "title": null}},
        "text": {"field": "t"}
      }
    }
  ]
}
